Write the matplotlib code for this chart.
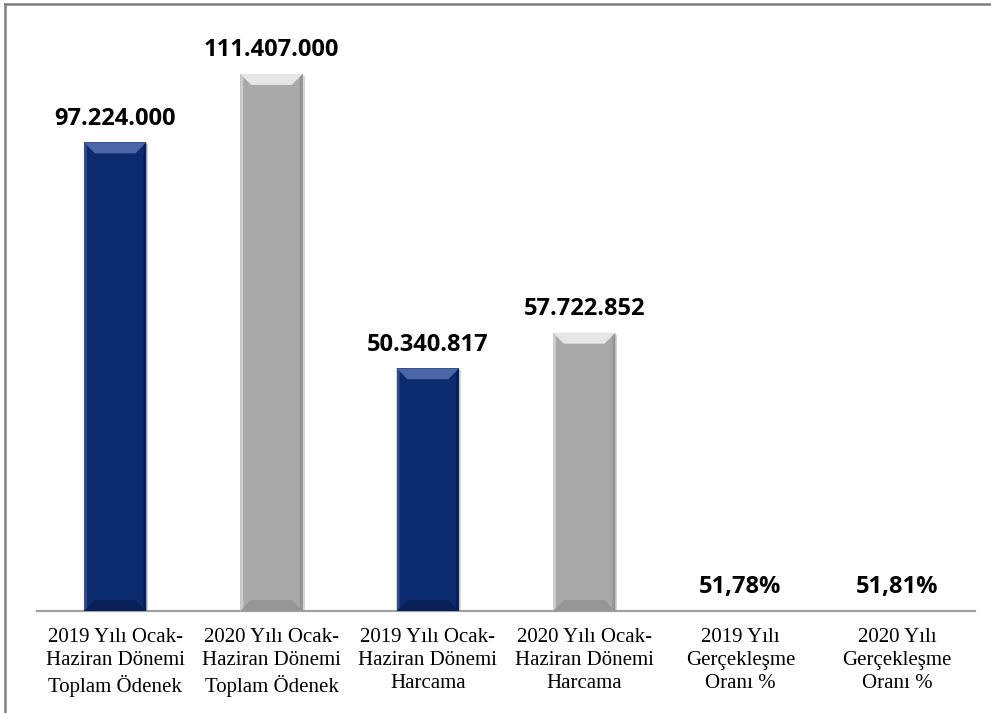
import matplotlib.pyplot as plt
from matplotlib.patches import Polygon, Rectangle
from matplotlib.lines import Line2D

categories = ['2019 Yılı Ocak-\nHaziran Dönemi\nToplam Ödenek',
              '2020 Yılı Ocak-\nHaziran Dönemi\nToplam Ödenek',
              '2019 Yılı Ocak-\nHaziran Dönemi\nHarcama',
              '2020 Yılı Ocak-\nHaziran Dönemi\nHarcama',
              '2019 Yılı\nGerçekleşme\nOranı %',
              '2020 Yılı\nGerçekleşme\nOranı %']
values = [97224000, 111407000, 50340817, 57722852, 51.78, 51.81]
labels = ['97.224.000', '111.407.000', '50.340.817', '57.722.852', '51,78%', '51,81%']
navy = '#0c2a6e'
grey = '#a9a9a9'
colors = [navy, grey, navy, grey, navy, grey]
light = {navy: '#4a66a6', grey: '#e6e6e6'}
dark = {navy: '#07184a', grey: '#8a8a8a'}

W, H, DPI = 9.91, 7.13, 100
fig = plt.figure(figsize=(W, H), dpi=DPI)
ax_pos = [37 / 991, 102 / 713, 938 / 991, 591 / 713]
ax = fig.add_axes(ax_pos)
ymax = 122.6e6
ax.set_xlim(-0.5, 5.5)
ax.set_ylim(0, ymax)

bw = 0.40
x = list(range(len(values)))
bars = ax.bar(x, values, width=bw, color=colors, zorder=3)

# pixel -> data conversions for the bevel
px_x = 6 / (ax_pos[2] * W * DPI)
px_y = ymax / (ax_pos[3] * H * DPI)

for b, c in zip(bars, colors):
    x0 = b.get_x()
    x1 = x0 + b.get_width()
    h = b.get_height()
    if h < 1000:
        continue
    # soft shadow
    ax.add_patch(Rectangle((x0 + 2 * px_x, -2 * px_y), b.get_width(), h,
                           color='#bbbbbb', alpha=0.6, zorder=2, lw=0))
    d = 11
    dx, dy = d * px_x, d * px_y
    sx, sy = 3 * px_x, 3 * px_y
    ax.add_patch(Polygon([(x0, h), (x1, h), (x1 - dx, h - dy), (x0 + dx, h - dy)],
                         closed=True, color=light[c], lw=0, zorder=4))
    ax.add_patch(Polygon([(x0, 0), (x1, 0), (x1 - dx, dy), (x0 + dx, dy)],
                         closed=True, color=dark[c], lw=0, zorder=4, alpha=0.6))
    ax.add_patch(Polygon([(x0, 0), (x0 + sx, sy), (x0 + sx, h - sy), (x0, h)],
                         closed=True, color=light[c], lw=0, zorder=4, alpha=0.6))
    ax.add_patch(Polygon([(x1, 0), (x1 - sx, sy), (x1 - sx, h - sy), (x1, h)],
                         closed=True, color=dark[c], lw=0, zorder=4, alpha=0.7))

for b, lab in zip(bars, labels):
    ax.annotate(lab, (b.get_x() + b.get_width() / 2, b.get_height()),
                xytext=(0, 17), textcoords='offset points', ha='center', va='center',
                fontsize=17, fontweight='bold', family='Open Sans', color='black')

ax.set_xticks(x)
ax.set_xticklabels(categories, family='Liberation Serif', fontsize=15, linespacing=1.3)
ax.tick_params(axis='x', length=0, pad=12)
ax.set_yticks([])
for s in ['top', 'right', 'left']:
    ax.spines[s].set_visible(False)
ax.spines['bottom'].set_color('#a0a0a0')
ax.spines['bottom'].set_linewidth(1.6)

# outer chart frame (top and left edges visible)
fig.add_artist(Line2D([5 / 991, 1], [1 - 4 / 713, 1 - 4 / 713], color='#808080', lw=1.8))
fig.add_artist(Line2D([5 / 991, 5 / 991], [0, 1 - 4 / 713], color='#808080', lw=1.8))

fig.savefig('out.png', dpi=DPI)
